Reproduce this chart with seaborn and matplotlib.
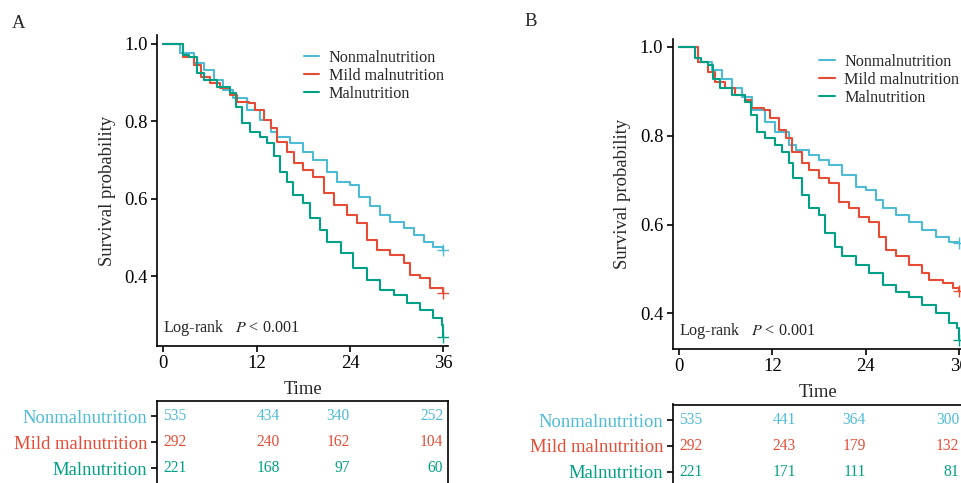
import numpy as np
import pandas as pd
import seaborn as sns
import matplotlib.pyplot as plt
from matplotlib.transforms import blended_transform_factory

groups = ["Nonmalnutrition", "Mild malnutrition", "Malnutrition"]
colors = ["#4DBBD5", "#E64B35", "#00A087"]

# Panel A: Kaplan-Meier step points (time, survival)
a_non_t = [0, 1.1, 2.2, 3.9, 5.2, 6.5, 7.7, 9.0, 10.8, 12.5, 13.8, 14.6, 16.3, 18.0, 19.3, 21.0, 22.3, 24.0, 25.1, 26.6, 27.9, 29.2, 30.9, 32.2, 33.5, 34.7, 36]
a_non_s = [1.0, 1.0, 0.975, 0.949, 0.932, 0.906, 0.881, 0.859, 0.829, 0.803, 0.773, 0.760, 0.743, 0.721, 0.700, 0.670, 0.644, 0.636, 0.605, 0.580, 0.558, 0.541, 0.524, 0.507, 0.489, 0.476, 0.468]
a_mild_t = [0, 1.5, 2.6, 3.9, 4.8, 6.0, 7.3, 8.6, 9.5, 11.0, 11.8, 12.9, 13.8, 14.6, 15.9, 16.8, 18.0, 19.3, 20.6, 21.9, 23.6, 24.9, 26.2, 27.5, 29.2, 30.9, 31.7, 33.0, 34.3, 36]
a_mild_s = [1.0, 1.0, 0.966, 0.945, 0.915, 0.898, 0.885, 0.868, 0.850, 0.846, 0.829, 0.803, 0.782, 0.747, 0.721, 0.691, 0.674, 0.657, 0.614, 0.584, 0.558, 0.537, 0.494, 0.468, 0.455, 0.434, 0.403, 0.395, 0.369, 0.356]
a_mal_t = [0, 1.7, 2.6, 3.3, 4.3, 5.2, 6.9, 8.6, 9.3, 10.1, 11.2, 12.5, 13.3, 14.2, 15.0, 15.9, 16.7, 18.0, 18.9, 20.2, 21.0, 22.8, 24.4, 26.2, 27.9, 29.6, 31.3, 33.0, 34.7, 35.8, 36]
a_mal_s = [1.0, 1.0, 0.971, 0.966, 0.924, 0.906, 0.889, 0.872, 0.838, 0.795, 0.773, 0.760, 0.743, 0.709, 0.670, 0.644, 0.610, 0.588, 0.550, 0.519, 0.489, 0.459, 0.421, 0.391, 0.365, 0.352, 0.330, 0.313, 0.292, 0.274, 0.242]

# Panel B
b_non_t = [0, 1.2, 2.5, 4.2, 5.5, 6.8, 8.1, 9.4, 11.1, 12.4, 14.1, 15.0, 16.7, 18.0, 19.3, 21.0, 22.7, 24.0, 25.3, 26.2, 27.9, 29.6, 31.3, 33.0, 34.7, 36]
b_non_s = [1.0, 1.0, 0.967, 0.948, 0.929, 0.907, 0.888, 0.858, 0.832, 0.809, 0.779, 0.768, 0.757, 0.745, 0.734, 0.712, 0.685, 0.678, 0.655, 0.637, 0.622, 0.606, 0.588, 0.573, 0.561, 0.558]
b_mild_t = [0, 1.4, 2.5, 3.8, 4.6, 5.9, 7.2, 8.5, 9.2, 10.9, 11.7, 12.8, 13.7, 14.5, 15.8, 16.7, 18.0, 19.3, 20.6, 21.8, 23.1, 24.4, 25.7, 26.6, 27.9, 29.6, 31.3, 32.2, 33.9, 35.2, 36]
b_mild_s = [1.0, 1.0, 0.967, 0.944, 0.922, 0.907, 0.892, 0.881, 0.862, 0.858, 0.839, 0.813, 0.794, 0.764, 0.738, 0.723, 0.704, 0.693, 0.651, 0.637, 0.618, 0.606, 0.573, 0.543, 0.528, 0.509, 0.490, 0.475, 0.468, 0.456, 0.450]
b_mal_t = [0, 1.3, 2.1, 2.9, 3.8, 4.4, 5.3, 6.8, 8.5, 9.2, 10.0, 11.1, 12.4, 13.3, 14.1, 14.7, 15.8, 16.7, 18.0, 18.8, 20.1, 21.0, 22.7, 24.4, 26.2, 27.9, 29.6, 31.3, 33.0, 34.7, 35.7, 36]
b_mal_s = [1.0, 1.0, 0.975, 0.967, 0.959, 0.929, 0.907, 0.892, 0.877, 0.847, 0.809, 0.794, 0.779, 0.764, 0.738, 0.704, 0.667, 0.637, 0.622, 0.580, 0.550, 0.528, 0.509, 0.490, 0.464, 0.449, 0.437, 0.419, 0.400, 0.378, 0.366, 0.340]

# Numbers at risk
risk_times = [0, 12, 24, 36]
risk_a_non = [535, 434, 340, 252]
risk_a_mild = [292, 240, 162, 104]
risk_a_mal = [221, 168, 97, 60]
risk_b_non = [535, 441, 364, 300]
risk_b_mild = [292, 243, 179, 132]
risk_b_mal = [221, 171, 111, 81]

sns.set_theme(style="ticks")
plt.rcParams["font.family"] = ["Liberation Serif", "DejaVu Serif"]
plt.rcParams["mathtext.fontset"] = "stix"
plt.rcParams["axes.linewidth"] = 1.2
plt.rcParams["xtick.major.width"] = 1.2
plt.rcParams["ytick.major.width"] = 1.2
plt.rcParams["xtick.major.size"] = 4.3
plt.rcParams["ytick.major.size"] = 4.3
plt.rcParams["xtick.color"] = "black"
plt.rcParams["ytick.color"] = "black"
plt.rcParams["axes.edgecolor"] = "black"


def draw_km(ax, curves, ylim):
    frames = []
    for name, (t, s) in zip(groups, curves):
        frames.append(pd.DataFrame({"time": t, "surv": s, "group": name}))
    df = pd.concat(frames, ignore_index=True)
    sns.lineplot(data=df, x="time", y="surv", hue="group", hue_order=groups,
                 palette=colors, estimator=None, sort=False, drawstyle="steps-post",
                 linewidth=1.5, ax=ax)
    # censor marks at the end of follow-up
    for (t, s), c in zip(curves, colors):
        ax.plot(t[-1], s[-1], marker="+", color=c, markersize=9, markeredgewidth=1.0)
    ax.set_xlim(-0.8, 36.6)
    ax.set_ylim(*ylim)
    ax.set_xticks([0, 12, 24, 36])
    ax.set_yticks([0.4, 0.6, 0.8, 1.0])
    ax.set_yticklabels(["0.4", "0.6", "0.8", "1.0"])
    ax.tick_params(labelsize=13.4, pad=2.5)
    ax.set_xlabel("Time", fontsize=13.4, labelpad=6)
    ax.set_ylabel("Survival probability", fontsize=13.4, labelpad=6)
    sns.despine(ax=ax)
    sns.move_legend(ax, "upper left", bbox_to_anchor=(0.504, 0.952), frameon=False,
                    title=None, fontsize=11.6, handlelength=0.95, handletextpad=0.6,
                    labelspacing=0.12, borderaxespad=0, borderpad=0)
    tr = blended_transform_factory(ax.transData, ax.transAxes)
    ax.text(0, 0.057, r"Log-rank   $P$ < 0.001", transform=tr, fontsize=11.6,
            ha="left", va="center")


def draw_table(ax, counts):
    ax.set_xlim(-0.8, 36.6)
    ax.set_ylim(3.6, 0.4)
    aligns = ["left", "left", "right", "right"]
    for i, (row, c) in enumerate(zip(counts, colors)):
        for t, n, ha in zip(risk_times, row, aligns):
            ax.text(t, i + 1, str(n), color=c, fontsize=11.2, ha=ha, va="center")
    ax.set_xticks([])
    ax.set_yticks([1, 2, 3])
    ax.set_yticklabels(groups, fontsize=13.4)
    for lab, c in zip(ax.get_yticklabels(), colors):
        lab.set_color(c)
    ax.tick_params(axis="y", length=4.3, width=1.2, pad=2.5)
    for sp in ax.spines.values():
        sp.set_visible(True)
        sp.set_linewidth(1.2)


fig = plt.figure(figsize=(9.62, 4.83), dpi=100)
W, H = 962, 483

ax_a = fig.add_axes([157 / W, 1 - 346 / H, 291 / W, 311 / H])
draw_km(ax_a, [(a_non_t, a_non_s), (a_mild_t, a_mild_s), (a_mal_t, a_mal_s)], (0.22, 1.0225))
tab_a = fig.add_axes([157 / W, 1 - 483.6 / H, 291 / W, 82.6 / H])
draw_table(tab_a, [risk_a_non, risk_a_mild, risk_a_mal])

ax_b = fig.add_axes([672.7 / W, 1 - 349 / H, 291 / W, 310 / H])
draw_km(ax_b, [(b_non_t, b_non_s), (b_mild_t, b_mild_s), (b_mal_t, b_mal_s)], (0.3196, 1.018))
tab_b = fig.add_axes([672.7 / W, 1 - 487.2 / H, 291 / W, 82.7 / H])
draw_table(tab_b, [risk_b_non, risk_b_mild, risk_b_mal])

fig.text(19 / W, 1 - 23 / H, "A", fontsize=13.5, ha="center", va="center")
fig.text(531 / W, 1 - 21 / H, "B", fontsize=13.5, ha="center", va="center")

fig.savefig("out.png", dpi=100)
